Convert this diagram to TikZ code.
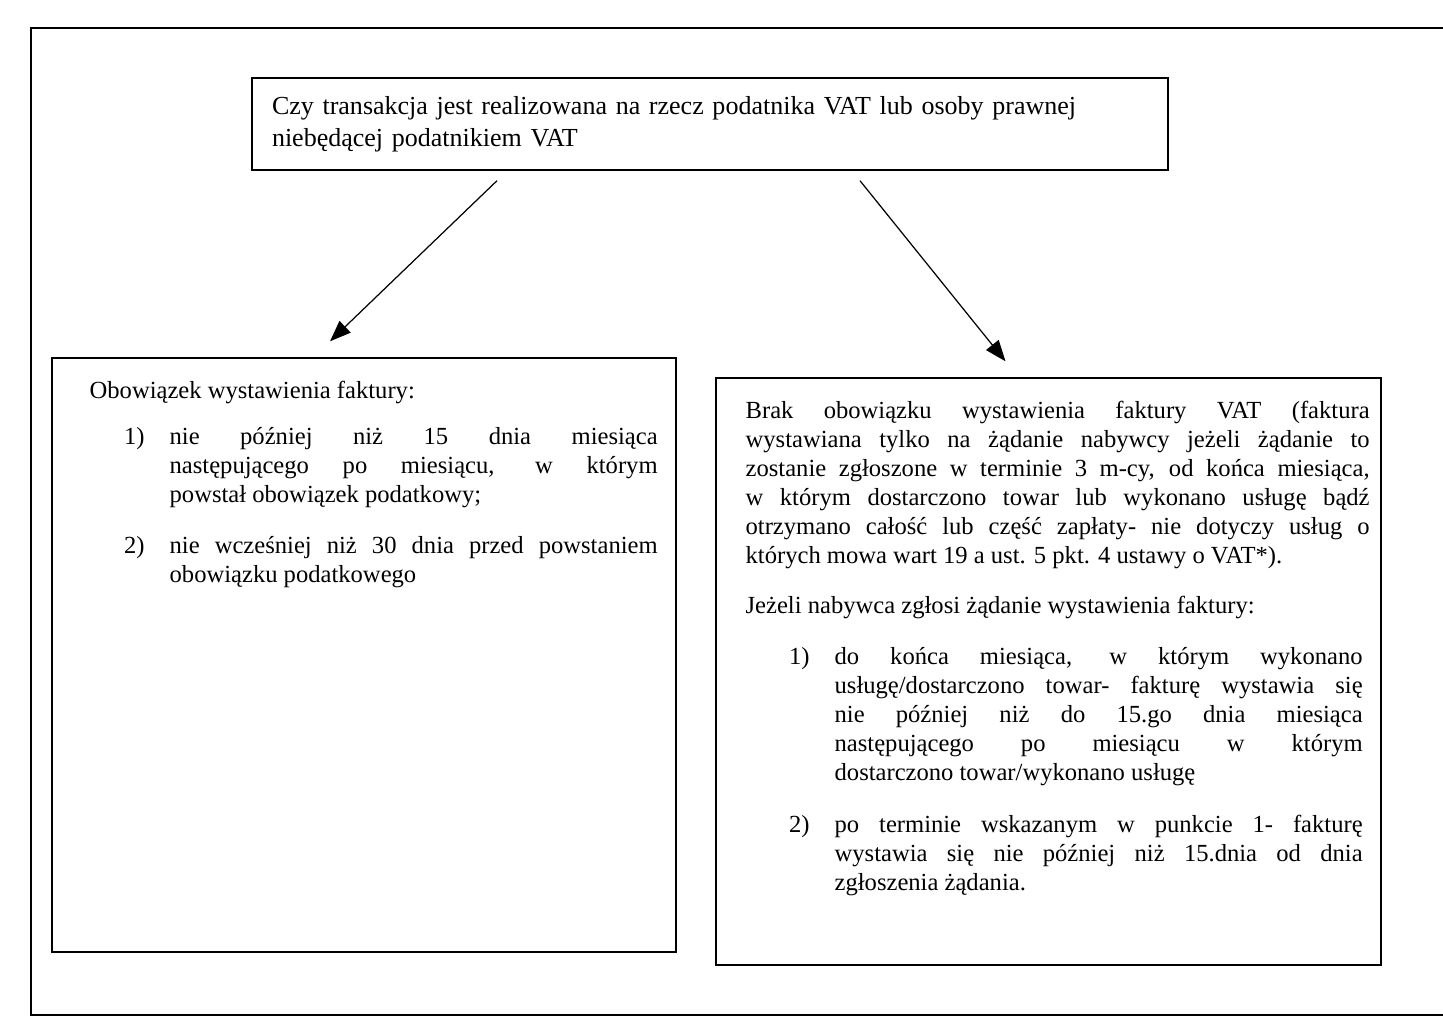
\documentclass[tikz,border=0pt]{standalone}
\usepackage{fontspec}
\setmainfont{Liberation Serif}
\usepackage{enumitem}
\usetikzlibrary{arrows.meta}

\tikzset{
  frame/.style={draw, line width=0.8pt, inner sep=0pt},
  boxtext/.style={anchor=north west, inner sep=0pt, align=justify,
    font=\fontsize{14}{16.5}\selectfont},
  arr/.style={line width=0.7pt, -{Triangle[length=0.42cm,width=0.32cm]}}
}
\setlist[enumerate]{label=\arabic*), topsep=0pt, partopsep=0pt, parsep=0pt}

\begin{document}
\begin{tikzpicture}
                \useasboundingbox (0,0) rectangle (28.86,-20.6);
                \draw[line width=0.8pt] (28.86,-0.56) -- (0.62,-0.56) -- (0.62,-20.3) -- (28.86,-20.3);
                % question
                \node[frame, minimum width=18.32cm, minimum height=1.84cm, text width=17.52cm,
                  align=left, font=\fontsize{14.8}{18.5}\selectfont] (q) at (14.2,-2.48)
                  {Czy transakcja jest realizowana na rzecz podatnika VAT lub osoby prawnej\\
                   niebędącej podatnikiem VAT};
                % the two answers
                \node[frame, minimum width=12.48cm, minimum height=11.88cm] (lbox) at (7.28,-13.1) {};
                \node[frame, minimum width=13.3cm, minimum height=11.74cm] (rbox) at (20.97,-13.43) {};
                \node[boxtext, text width=11.36cm] (ltxt) at ([xshift=0.76cm,yshift=-0.48cm]lbox.north west)
                  {\tolerance=10000 Obowiązek wystawienia faktury:
                   \begin{enumerate}[leftmargin=1.6cm, labelsep=0.5cm, topsep=0.34cm, itemsep=0.44cm]
                   \item nie później niż 15 dnia miesiąca\linebreak
                     następującego po miesiącu, w którym\linebreak
                     powstał obowiązek podatkowy;
                   \item nie wcześniej niż 30 dnia przed powstaniem\linebreak
                     obowiązku podatkowego
                   \end{enumerate}};
                \node[boxtext, text width=12.48cm] (rtxt) at ([xshift=0.6cm,yshift=-0.48cm]rbox.north west)
                  {\tolerance=10000 Brak obowiązku wystawienia faktury VAT (faktura\linebreak
                   wystawiana tylko na żądanie nabywcy jeżeli żądanie to\linebreak
                   zostanie zgłoszone w terminie 3 m-cy, od końca miesiąca,\linebreak
                   w którym dostarczono towar lub wykonano usługę bądź\linebreak
                   otrzymano całość lub część zapłaty- nie dotyczy usług o\linebreak
                   których mowa wart 19 a ust. 5 pkt. 4 ustawy o VAT*).\par
                   \vspace{0.42cm}Jeżeli nabywca zgłosi żądanie wystawienia faktury:
                   \begin{enumerate}[leftmargin=1.78cm, rightmargin=0.14cm, labelsep=0.5cm, topsep=0.44cm, itemsep=0.46cm]
                   \item do końca miesiąca, w którym wykonano\linebreak
                     usługę/dostarczono towar- fakturę wystawia się\linebreak
                     nie później niż do 15.go dnia miesiąca\linebreak
                     następującego po miesiącu w którym\linebreak
                     dostarczono towar/wykonano usługę
                   \item po terminie wskazanym w punkcie 1- fakturę\linebreak
                     wystawia się nie później niż 15.dnia od dnia\linebreak
                     zgłoszenia żądania.
                   \end{enumerate}};
                \draw[arr] ([xshift=-4.26cm,yshift=-0.2cm]q.south) -- ([xshift=-0.68cm,yshift=0.32cm]lbox.north);
                \draw[arr] ([xshift=3cm,yshift=-0.2cm]q.south) -- ([xshift=-0.86cm,yshift=0.32cm]rbox.north);
            \end{tikzpicture}
\end{document}
